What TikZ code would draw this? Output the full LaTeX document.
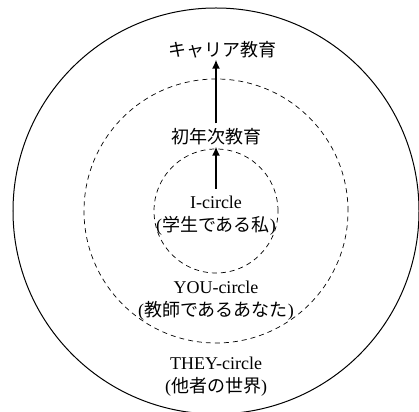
\documentclass[tikz,border=0pt]{standalone}
\usepackage{fontspec}
\setmainfont{Liberation Serif}
\newfontfamily\jp{Noto Sans CJK JP}
\usetikzlibrary{arrows.meta}

\begin{document}
\begin{tikzpicture}[x=1pt,y=1pt,
  ring/.style={dash pattern=on 5pt off 4pt, line width=0.7pt},
  lbl/.style={align=center, font=\fontsize{18}{23}\selectfont, inner sep=1pt},
  up/.style={-{Latex[length=9pt,width=8pt]}, line width=2.6pt}]
  \useasboundingbox (-216,-200) rectangle (203,211);
  % THEY = solid outer circle
  \draw[line width=1pt] (0,0) circle (203);
  % YOU and I = dashed circles
  \draw[ring] (0,0) circle (132);
  \draw[ring] (0,0) circle (62);
  % labels of the three circles
  \node[lbl] (ilabel) at (0,-4.5) {I-circle\\({\jp 学生である私})};
  \node[lbl] (youlabel) at (0,-89.5) {YOU-circle\\({\jp 教師であるあなた})};
  \node[lbl] (theylabel) at (0,-165.5) {THEY-circle\\({\jp 他者の世界})};
  % the two steps of education
  \node[lbl] (shonen) at (0,74) {\jp 初年次教育};
  \node[lbl] (career) at (6,161) {\jp キャリア教育};
  \draw[up, shorten <=6pt] (ilabel.north) -- (shonen.south);
  \draw[up, shorten <=4pt] (shonen.north) -- (shonen.north |- career.south);
\end{tikzpicture}
\end{document}
